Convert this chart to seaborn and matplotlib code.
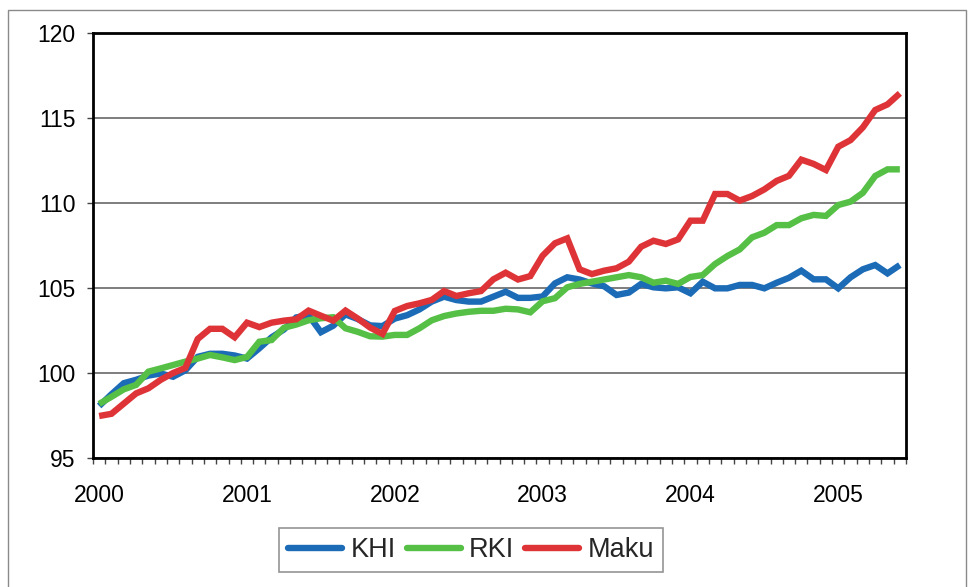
import numpy as np
import pandas as pd
import matplotlib
matplotlib.use("Agg")
import matplotlib.pyplot as plt
from matplotlib.patches import Rectangle
from matplotlib.lines import Line2D
import seaborn as sns

years = ["2000", "2001", "2002", "2003", "2004", "2005"]
series_names = ["KHI", "RKI", "Maku"]

khi = [98.06, 98.75, 99.4, 99.6, 99.85, 99.97, 99.78, 100.16, 100.95, 101.13, 101.13, 101.03,
       100.85, 101.45, 102.1, 102.56, 103.27, 103.4, 102.4, 102.78, 103.45, 103.17, 102.8, 102.76,
       103.2, 103.4, 103.74, 104.2, 104.49, 104.29, 104.2, 104.2, 104.49, 104.78, 104.42, 104.42,
       104.5, 105.27, 105.63, 105.5, 105.27, 105.1, 104.59, 104.73, 105.24, 105.04, 104.98, 105.04,
       104.69, 105.37, 104.98, 104.98, 105.18, 105.18, 104.98, 105.31, 105.6, 106.02, 105.51, 105.51,
       104.98, 105.63, 106.1, 106.35, 105.86, 106.35]

rki = [98.18, 98.6, 99.04, 99.3, 100.08, 100.27, 100.47, 100.67, 100.85, 101.06, 100.92, 100.76,
       100.94, 101.84, 101.94, 102.66, 102.85, 103.1, 103.22, 103.28, 102.63, 102.42, 102.16, 102.14,
       102.24, 102.24, 102.63, 103.1, 103.35, 103.5, 103.6, 103.66, 103.66, 103.78, 103.74, 103.57,
       104.22, 104.4, 105.04, 105.24, 105.37, 105.5, 105.63, 105.76, 105.63, 105.31, 105.43, 105.24,
       105.65, 105.76, 106.41, 106.88, 107.27, 107.98, 108.25, 108.7, 108.7, 109.1, 109.3, 109.24,
       109.88, 110.08, 110.6, 111.59, 111.98, 111.98]

maku = [97.47, 97.6, 98.2, 98.8, 99.1, 99.6, 100.0, 100.3, 102.0, 102.6, 102.6, 102.1,
        102.96, 102.7, 102.96, 103.08, 103.16, 103.67, 103.37, 103.08, 103.67, 103.2, 102.67, 102.3,
        103.65, 103.94, 104.1, 104.3, 104.82, 104.53, 104.69, 104.82, 105.51, 105.9, 105.5, 105.7,
        106.9, 107.63, 107.92, 106.1, 105.82, 106.02, 106.16, 106.55, 107.43, 107.78, 107.59, 107.86,
        108.96, 108.96, 110.53, 110.53, 110.14, 110.41, 110.8, 111.3, 111.6, 112.55, 112.3, 111.94,
        113.31, 113.7, 114.45, 115.47, 115.8, 116.45]

y_ticks = [95, 100, 105, 110, 115, 120]

n = len(khi)
months = np.arange(n)
df = pd.DataFrame({
    "month": np.tile(months, 3),
    "value": khi + rki + maku,
    "series": np.repeat(series_names, n),
})

sns.set_theme(style="white")
plt.rcParams["font.family"] = ["Liberation Sans", "DejaVu Sans"]

W, H = 969, 587
fig = plt.figure(figsize=(W / 100, H / 100), dpi=100)
ax = fig.add_axes([93 / W, 1 - 458 / H, (906 - 93) / W, (458 - 33) / H])

palette = {"KHI": "#1C6BB7", "RKI": "#55C045", "Maku": "#DE3437"}
LW = 4.6
sns.lineplot(data=df, x="month", y="value", hue="series", palette=palette,
             hue_order=series_names, linewidth=LW, ax=ax, legend=False,
             solid_capstyle="butt", solid_joinstyle="miter")

ax.set_xlim(-0.5, n - 0.5)
ax.set_ylim(95, 120)
ax.set_yticks(y_ticks)
ax.set_yticklabels([str(v) for v in y_ticks])
ax.set_xticks([12 * i for i in range(len(years))])
ax.set_xticklabels(years)
ax.set_xticks(np.arange(-0.5, n, 1.0), minor=True)
ax.set_xlabel("")
ax.set_ylabel("")

ax.yaxis.grid(True, color="#5a5a5a", linewidth=1.1)
ax.xaxis.grid(False)
ax.set_axisbelow(True)

ax.tick_params(axis="y", which="major", direction="out", length=4.5, width=1,
               color="#444444", left=True, labelsize=16.5, pad=8, labelcolor="black")
ax.tick_params(axis="x", which="major", length=0, labelsize=16.5, pad=18.5, labelcolor="black")
ax.tick_params(axis="x", which="minor", direction="out", length=4, width=1,
               color="#444444", bottom=True)

for sp in ax.spines.values():
    sp.set_visible(True)
    sp.set_color("black")
    sp.set_linewidth(2)

handles = [Line2D([0], [0], color=palette[s], lw=LW) for s in series_names]
leg = fig.legend(handles, series_names, loc="center",
                 bbox_to_anchor=(471 / W, 1 - 550 / H), ncol=3, fontsize=19.5,
                 frameon=True, fancybox=False, edgecolor="#7a7a7a",
                 handlelength=2.0, handletextpad=0.3, columnspacing=0.4,
                 borderpad=0.33, borderaxespad=0)
leg.get_frame().set_linewidth(1.2)

fig.patches.append(Rectangle((8 / W, -0.02), (966 - 8) / W, (H - 10) / H + 0.02,
                             transform=fig.transFigure, fill=False,
                             edgecolor="#8a8a8a", linewidth=1, zorder=0))

fig.savefig("out.png", dpi=100)
